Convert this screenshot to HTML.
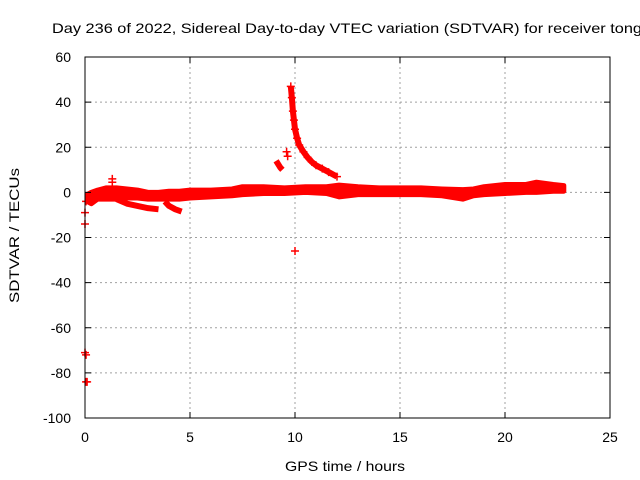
<!DOCTYPE html>
<html><head><meta charset="utf-8"><style>
body{margin:0;background:#fff;}
svg{display:block;font-family:"Liberation Sans",sans-serif;font-size:14px;}
</style></head><body>
<svg id="chart" width="640" height="480">
<text x="52" y="33" textLength="590" lengthAdjust="spacingAndGlyphs">Day 236 of 2022, Sidereal Day-to-day VTEC variation (SDTVAR) for receiver tong</text>
<text x="285" y="471" textLength="120" lengthAdjust="spacingAndGlyphs">GPS time / hours</text>
<text transform="translate(19,303) rotate(-90)" textLength="135" lengthAdjust="spacingAndGlyphs">SDTVAR / TECUs</text>
<g id="grid"></g><g id="marks"></g><g id="axes"></g>
</svg>
<script>
const xTicks=[0,5,10,15,20,25];
const yTicks=[60,40,20,0,-20,-40,-60,-80,-100];
const bandT=[0.1,0.3,0.6,1.0,1.5,2.0,2.5,3.0,3.5,4.0,4.5,5.0,6.0,7.0,7.5,8.5,9.5,10.5,11.5,12.1,13,14,15,16,17,18,18.5,19,20,21,21.5,22.3,22.8];
const bandLo=[-4,-5,-3,-3,-3,-2.5,-2.5,-3,-3,-3,-3,-2.5,-2,-1.5,-1,-0.5,-0.5,0,-0.5,-2,-1,-1,-1,-1,-1.5,-3,-1.5,-1,-0.5,0,0,0.5,0.5];
const bandHi=[-1,0,1,2,2,1.5,1,0,0,0.5,0.5,1,1,1.5,2.5,2.5,2,2.5,2.5,3.2,2.5,2,2,2,1.5,1.2,1.5,2.5,3.5,3.5,4.5,3.5,3];
const lowT=[1.5,2.0,2.5,3.0,3.5];
const lowV=[-3,-5,-6,-7,-7.5];
const dipT=[3.8,4.0,4.3,4.6];
const dipV=[-4,-6,-7.5,-8.5];
const curveT=[9.8,9.85,9.9,9.95,10,10.1,10.2,10.4,10.6,10.8,11,11.3,11.6,12];
const curveV=[47,42,36,32,28,24,21,18,15.5,13.5,12,10.5,9,7];
const segT=[9.1,9.2,9.3,9.4];
const segV=[14,12.5,11,10];
const outT=[9.6,9.65,10,1.3,1.3,0,0.05,0,0,0.05,0.1,0.05];
const outV=[18,16,-26,6,4.5,-71,-72,-9,-14,-4,-84,-84];
const ns="http://www.w3.org/2000/svg";
const X=t=>85+t*21, Y=v=>418-(v+100)*361/160;
function mk(tag,parent,attrs){const e=document.createElementNS(ns,tag);for(const k in attrs)e.setAttribute(k,attrs[k]);parent.appendChild(e);return e;}
const grid=document.getElementById('grid'),marks=document.getElementById('marks'),axes=document.getElementById('axes');
xTicks.forEach(t=>{
 if(t>0&&t<25){const l=mk('line',grid,{x1:X(t),x2:X(t),y1:57,y2:418,stroke:'#a0a0a0','stroke-dasharray':'2,3'});
 
 }
 const tx=mk('text',axes,{x:X(t),y:442,'text-anchor':'middle'});tx.textContent=t;
 
 
 mk('line',axes,{x1:X(t),x2:X(t),y1:418,y2:412,stroke:'#000'});mk('line',axes,{x1:X(t),x2:X(t),y1:57,y2:63,stroke:'#000'});
});
yTicks.forEach(v=>{
 if(v>-100&&v<60){const l=mk('line',grid,{x1:85,x2:610,y1:Y(v),y2:Y(v),stroke:'#a0a0a0','stroke-dasharray':'2,3'});
 
 }
 const tx=mk('text',axes,{x:71,y:Y(v)+5,'text-anchor':'end'});tx.textContent=v;
 
 
 mk('line',axes,{x1:85,x2:91,y1:Y(v),y2:Y(v),stroke:'#000'});mk('line',axes,{x1:604,x2:610,y1:Y(v),y2:Y(v),stroke:'#000'});
});
const fr=mk('rect',axes,{x:85,y:57,width:525,height:361,fill:'none',stroke:'#000'});


let pts=bandT.map((t,i)=>X(t)+','+Y(bandHi[i])).concat(bandT.map((t,i)=>X(t)+','+Y(bandLo[i])).reverse());
const band=mk('polygon',marks,{points:pts.join(' '),fill:'#ff0000',stroke:'#ff0000','stroke-width':5,'stroke-linejoin':'round'});


function polyl(T,V,name){const p=mk('polyline',marks,{points:T.map((t,i)=>X(t)+','+Y(V[i])).join(' '),fill:'none',stroke:'#ff0000','stroke-width':6,'stroke-linejoin':'round'});
 
 }
polyl(lowT,lowV,'lower-branch');
polyl(dipT,dipV,'dip-branch');
polyl(curveT,curveV,'decay-curve');
polyl(segT,segV,'short-segment');
function plus(t,v){const g=mk('path',marks,{d:`M${X(t)-4},${Y(v)}h8M${X(t)},${Y(v)-4}v8`,stroke:'#ff0000','stroke-width':1.5});
 
 }
outT.forEach((t,i)=>plus(t,outV[i]));
curveT.forEach((t,i)=>plus(t,curveV[i]));
</script>
</body></html>
